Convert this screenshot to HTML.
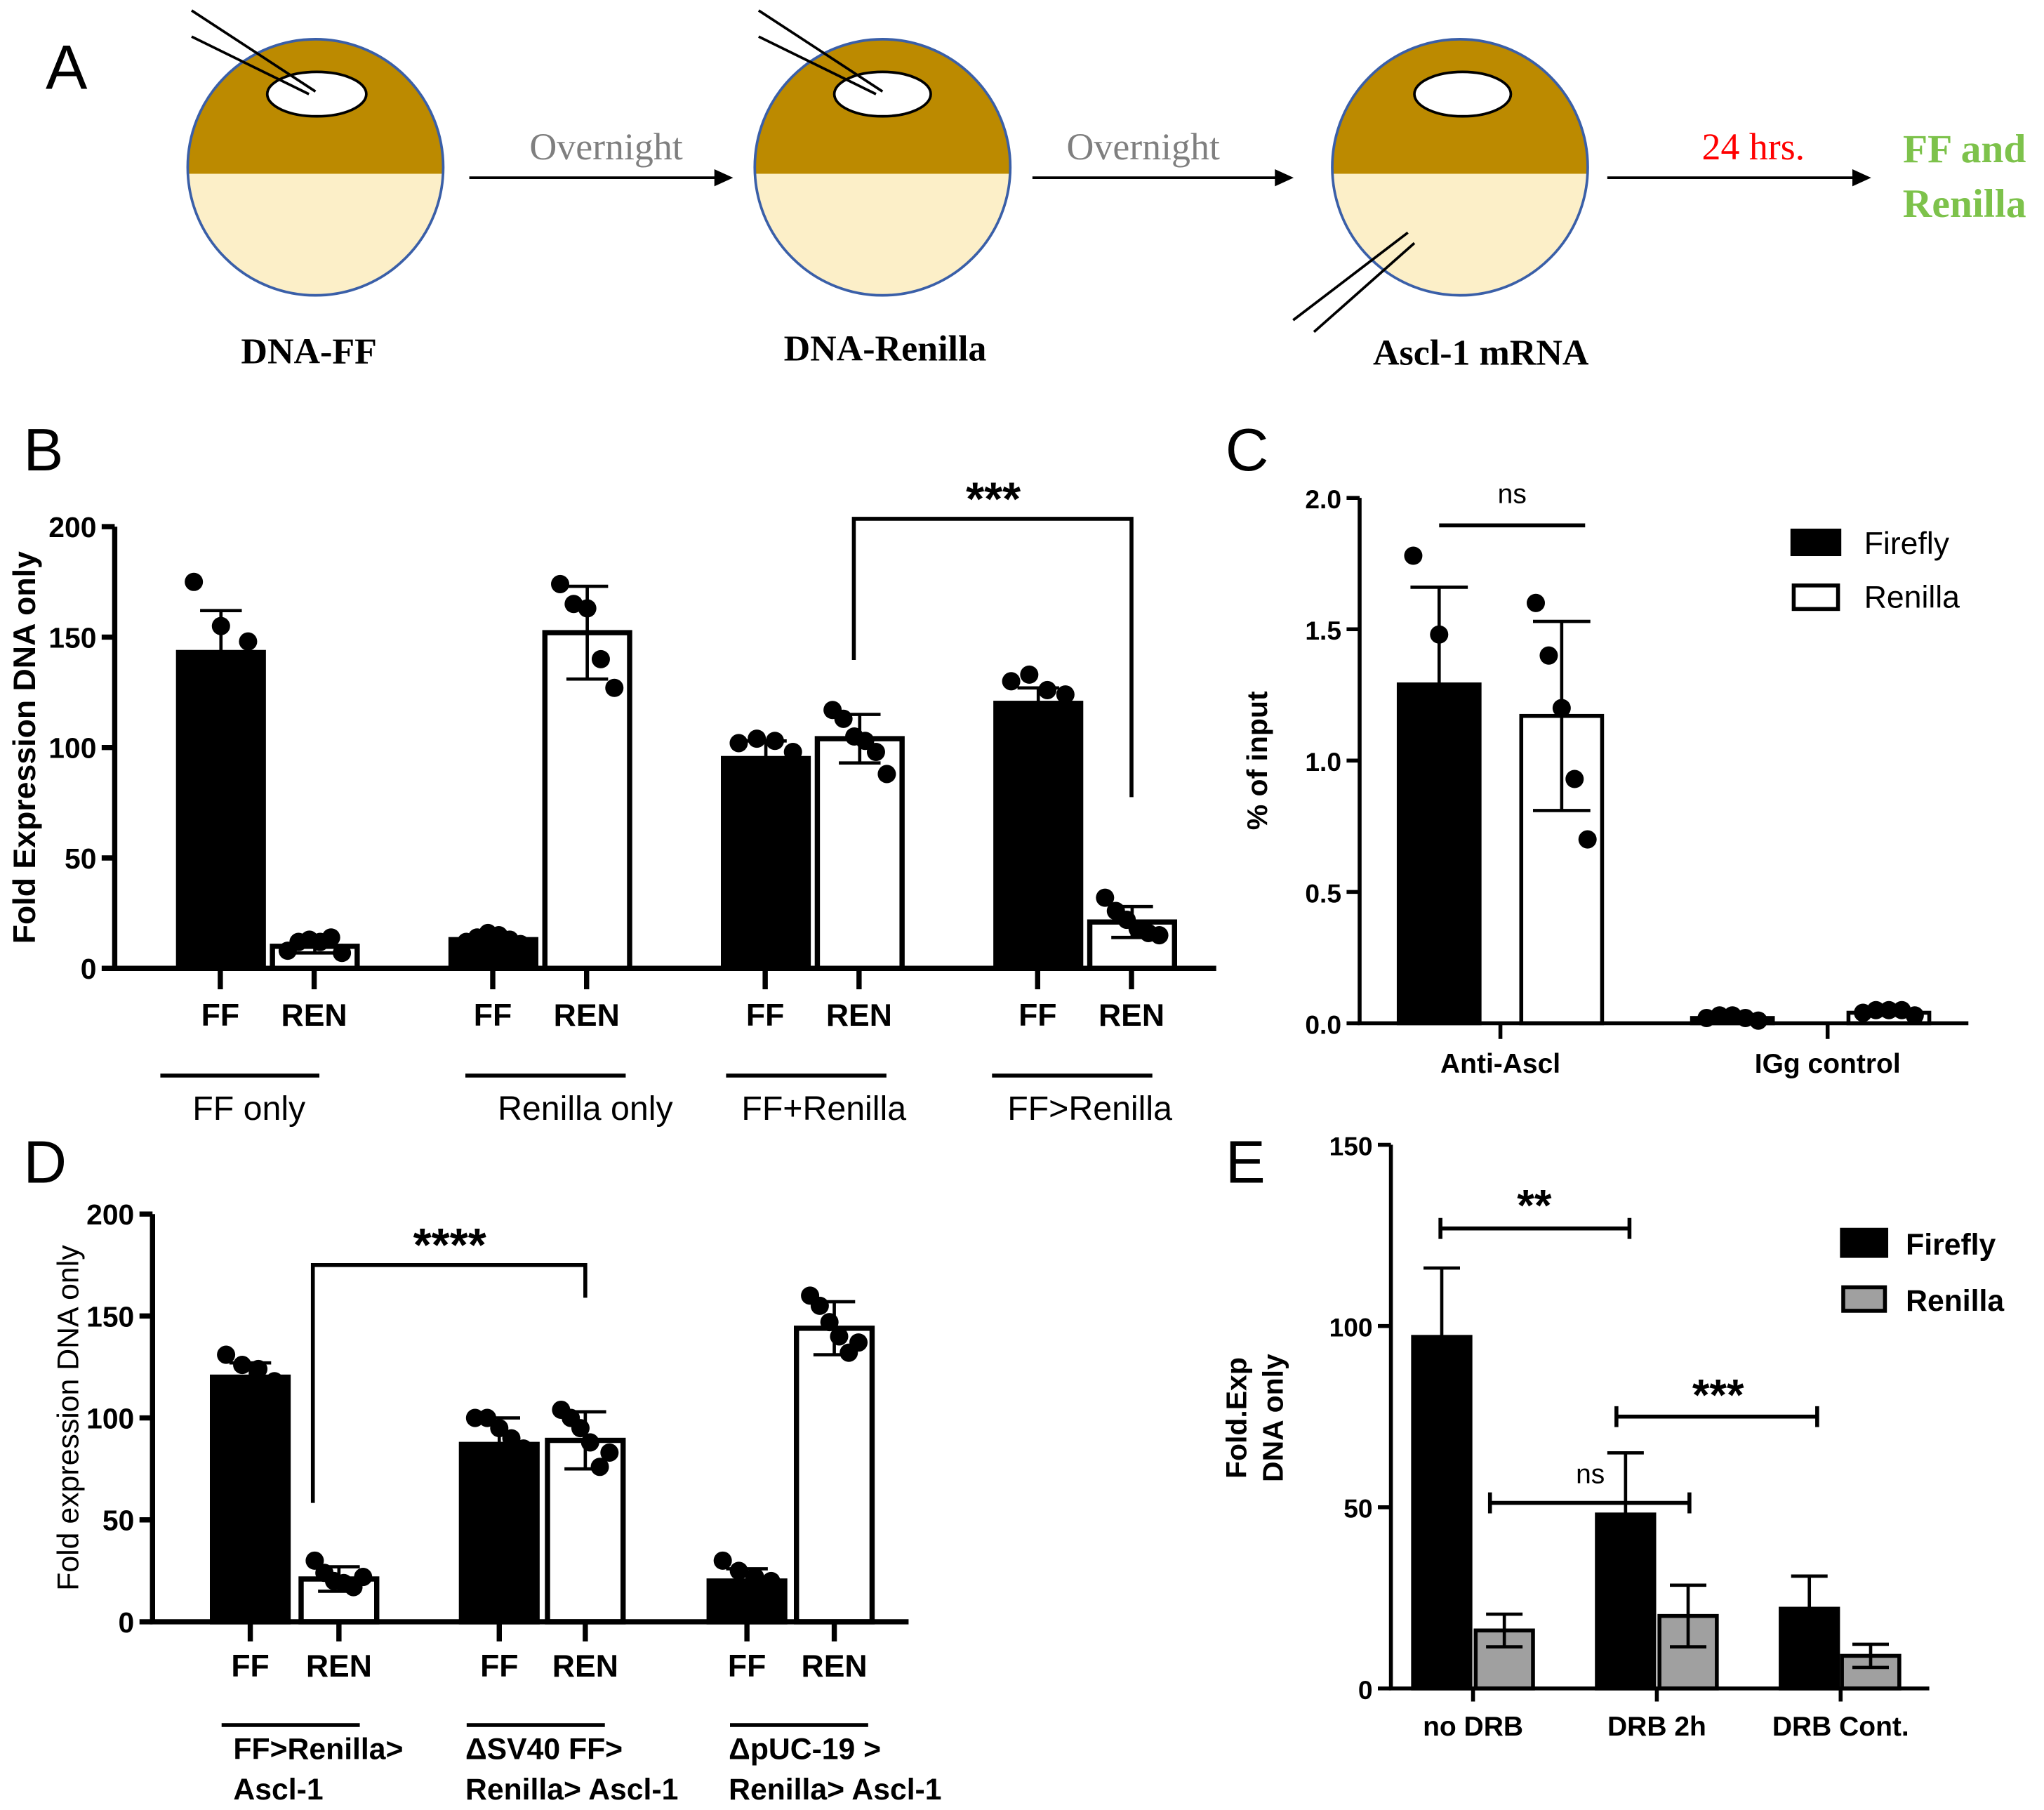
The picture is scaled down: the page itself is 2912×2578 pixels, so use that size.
<!DOCTYPE html>
<html><head><meta charset="utf-8">
<style>
html,body{margin:0;padding:0;background:#fff;}
svg{display:block;}
text{font-family:"Liberation Sans",sans-serif;}
.serif{font-family:"Liberation Serif",serif;}
</style></head>
<body>
<svg id="fig" width="2912" height="2578" viewBox="0 0 1568 1385" preserveAspectRatio="none" xmlns="http://www.w3.org/2000/svg">
<!-- Panel A -->
<g>
<text x="35" y="68" font-size="48">A</text>
<defs>
<clipPath id="c1"><circle cx="242" cy="128" r="98"/></clipPath>
<clipPath id="c2"><circle cx="677" cy="128" r="98"/></clipPath>
<clipPath id="c3"><circle cx="1120" cy="128" r="98"/></clipPath>
</defs>
<g>
<g clip-path="url(#c1)"><rect x="140" y="25" width="210" height="108" fill="#BC8A00"/><rect x="140" y="133" width="210" height="100" fill="#FCEFC8"/></g>
<circle cx="242" cy="128" r="98" fill="none" stroke="#3A5FA8" stroke-width="2"/>
<ellipse cx="243" cy="72" rx="38" ry="17" fill="#fff" stroke="#000" stroke-width="2"/>
<line x1="147" y1="8" x2="242" y2="70" stroke="#000" stroke-width="2"/><line x1="147" y1="28" x2="237" y2="72" stroke="#000" stroke-width="2"/>
</g>
<g>
<g clip-path="url(#c2)"><rect x="575" y="25" width="210" height="108" fill="#BC8A00"/><rect x="575" y="133" width="210" height="100" fill="#FCEFC8"/></g>
<circle cx="677" cy="128" r="98" fill="none" stroke="#3A5FA8" stroke-width="2"/>
<ellipse cx="677" cy="72" rx="37" ry="17" fill="#fff" stroke="#000" stroke-width="2"/>
<line x1="582" y1="8" x2="677" y2="70" stroke="#000" stroke-width="2"/><line x1="582" y1="28" x2="672" y2="72" stroke="#000" stroke-width="2"/>
</g>
<g>
<g clip-path="url(#c3)"><rect x="1018" y="25" width="210" height="108" fill="#BC8A00"/><rect x="1018" y="133" width="210" height="100" fill="#FCEFC8"/></g>
<circle cx="1120" cy="128" r="98" fill="none" stroke="#3A5FA8" stroke-width="2"/>
<ellipse cx="1122" cy="72" rx="37" ry="17" fill="#fff" stroke="#000" stroke-width="2"/>
<line x1="992" y1="245" x2="1080" y2="178" stroke="#000" stroke-width="2"/><line x1="1008" y1="254" x2="1085" y2="186" stroke="#000" stroke-width="2"/>
</g>
<g stroke="#000" stroke-width="2" fill="#000">
<line x1="360" y1="136" x2="552" y2="136"/><polygon points="560,136 549,131 549,141"/>
<line x1="792" y1="136" x2="982" y2="136"/><polygon points="990,136 979,131 979,141"/>
<line x1="1233" y1="136" x2="1425" y2="136"/><polygon points="1433,136 1422,131 1422,141"/>
</g>
<text class="serif" x="465" y="122" font-size="29" fill="#7f7f7f" text-anchor="middle">Overnight</text>
<text class="serif" x="877" y="122" font-size="29" fill="#7f7f7f" text-anchor="middle">Overnight</text>
<text class="serif" x="1345" y="122" font-size="29" fill="#ff0000" text-anchor="middle">24 hrs.</text>
<text class="serif" x="1507" y="124" font-size="31" font-weight="bold" fill="#7DC24B" text-anchor="middle">FF and</text>
<text class="serif" x="1507" y="166" font-size="31" font-weight="bold" fill="#7DC24B" text-anchor="middle">Renilla</text>
<text class="serif" x="237" y="278" font-size="28" font-weight="bold" text-anchor="middle">DNA-FF</text>
<text class="serif" x="679" y="276" font-size="28" font-weight="bold" text-anchor="middle">DNA-Renilla</text>
<text class="serif" x="1136" y="279" font-size="28" font-weight="bold" text-anchor="middle">Ascl-1 mRNA</text>
</g>
<text x="18" y="360" font-size="46">B</text>
<text x="940" y="360" font-size="46">C</text>
<text x="18" y="905" font-size="46">D</text>
<text x="940" y="905" font-size="46">E</text>
</svg>
<script>
// ---- Panel B data ----
const bCategories = ['FF','REN','FF','REN','FF','REN','FF','REN'];
const bValues = [143,10,13,152,95,104,120,21];
const bErrors = [19,3,3,21,8,11,7,7];
const bDots = [[175,155,148],[8,12,13,12,14,7],[12,14,16,15,13,11],[174,165,163,140,127],[102,104,103,98],[117,113,105,103,98,88],[130,133,126,124],[32,26,22,18,16,15]];
const bTicks = [0,50,100,150,200];
const bGroups = ['FF only','Renilla only','FF+Renilla','FF>Renilla'];
// ---- Panel C data ----
const cGroups = ['Anti-Ascl','IGg control'];
const cValues = [1.29,1.17,0.02,0.04];
const cErrors = [0.37,0.36,0.01,0.01];
const cDots = [[1.78,1.48,1.2],[1.6,1.4,1.2,0.93,0.7],[0.02,0.03,0.03,0.02,0.01],[0.04,0.05,0.05,0.05,0.03]];
const cTicks = [0,0.5,1.0,1.5,2.0];
// ---- Panel D data ----
const dCategories = ['FF','REN','FF','REN','FF','REN'];
const dValues = [120,21,87,89,20,144];
const dErrors = [7,6,13,14,6,13];
const dDots = [[131,126,124,118],[30,24,20,19,17,22],[100,100,95,90,85],[104,100,95,88,76,83],[30,25,22,20],[160,155,147,140,132,137]];
const dTicks = [0,50,100,150,200];
// ---- Panel E data ----
const eGroups = ['no DRB','DRB 2h','DRB Cont.'];
const eFirefly = [97,48,22];
const eRenilla = [16,20,9];
const eFireflyErr = [19,17,9];
const eRenillaErr = [4.5,8.5,3.2];
const eTicks = [0,50,100,150];

const NS='http://www.w3.org/2000/svg';
const svg=document.getElementById('fig');
function mk(tag,attrs,parent,txt){const e=document.createElementNS(NS,tag);for(const k in attrs)e.setAttribute(k,attrs[k]);if(txt!==undefined)e.textContent=txt;(parent||svg).appendChild(e);return e;}
function grp(name){const g=mk('g',{});


return g;}

function barChart(o){
  const g=grp(o.name);
  const y=v=>o.y0-(v/o.max)*(o.y0-o.yTop);
  // bars
  o.values.forEach((v,i)=>{
    const x=o.barX[i], w=o.barW, fill=o.fills[i];
    const r=mk('rect',{x:x,y:y(v),width:w,height:o.y0-y(v),fill:fill,stroke:'#000','stroke-width':o.sw},g);
    
    
    if(o.errors){const cx=x+w/2,e=o.errors[i];
      const ln=mk('path',{d:`M${cx},${y(v-e)}V${y(v+e)}M${cx-o.cap},${y(v+e)}H${cx+o.cap}M${cx-o.cap},${y(v-e)}H${cx+o.cap}`,stroke:fill==='#000'?'#000':'#000','stroke-width':2.5,fill:'none'},g);
      
      }
    if(o.dots){const d=o.dots[i],n=d.length;d.forEach((dv,j)=>{
      const cx=x+w*(0.18+0.64*(n>1?j/(n-1):0.5));
      const c=mk('circle',{cx:cx,cy:y(dv),r:o.dotR,fill:'#000'},g);
      
      });}
  });
  // axes
  const ax=mk('path',{d:`M${o.x0},${o.yTop}V${o.y0}H${o.xEnd}`,stroke:'#000','stroke-width':o.aw,fill:'none'},g);
  
  
  o.ticks.forEach(t=>{
    mk('line',{x1:o.x0-10,x2:o.x0,y1:y(t),y2:y(t),stroke:'#000','stroke-width':o.aw},g);
    const tx=mk('text',{x:o.x0-14,y:y(t)+8,'font-size':o.tickFs,'font-weight':'bold','text-anchor':'end'},g,o.fmt?o.fmt(t):t);
    
    
  });
  return {g,y};
}

// Panel B
(function(){
  const barX=[137,209,346,418,555,627,764,836];
  const fills=bValues.map((v,i)=>i%2===0?'#000':'#fff');
  fills[3]='#fff';
  const {g,y}=barChart({name:'panel-b-chart',values:bValues,errors:bErrors,dots:bDots,barX,barW:65,fills,x0:88,xEnd:933,y0:741,yTop:403,max:200,ticks:bTicks,tickFs:22,sw:4,aw:4,cap:16,dotR:7});
  bCategories.forEach((c,i)=>{const cx=barX[i]+32;
    mk('line',{x1:cx,x2:cx,y1:741,y2:757,stroke:'#000','stroke-width':4},g);
    const t=mk('text',{x:cx,y:785,'font-size':24,'font-weight':'bold','text-anchor':'middle'},g,c);
    
    });
  const gl=[[123,245,185],[357,480,449],[557,680,632],[761,884,836]];
  bGroups.forEach((s,i)=>{mk('line',{x1:gl[i][0],x2:gl[i][1],y1:823,y2:823,stroke:'#000','stroke-width':3},g);
    const t=mk('text',{x:gl[i][2]+(i===0?6:0),y:857,'font-size':26,'text-anchor':'middle'},g,s);
    
    });
  mk('path',{d:'M655,505V397H868V610',stroke:'#000','stroke-width':3,fill:'none'},g);
  const st=mk('text',{x:762,y:394,'font-size':36,'font-weight':'bold','text-anchor':'middle'},g,'***');
  
  
  const yl=mk('text',{transform:'translate(27,572) rotate(-90)','font-size':24,'font-weight':'bold','text-anchor':'middle'},g,'Fold Expression DNA only');
  
  
})();

// Panel C
(function(){
  const barX=[1073,1167,1298,1418];
  const fills=['#000','#fff','#000','#fff'];
  const {g,y}=barChart({name:'panel-c-chart',values:cValues,errors:cErrors,dots:cDots,barX,barW:62,fills,x0:1043,xEnd:1510,y0:783,yTop:381,max:2,ticks:cTicks,tickFs:20,sw:3,aw:3,cap:22,dotR:7,fmt:t=>t.toFixed(1)});
  [[1151,'Anti-Ascl'],[1402,'IGg control']].forEach((p,i)=>{
    mk('line',{x1:p[0],x2:p[0],y1:783,y2:795,stroke:'#000','stroke-width':3},g);
    const t=mk('text',{x:p[0],y:821,'font-size':21,'font-weight':'bold','text-anchor':'middle'},g,cGroups[i]);
    
    });
  mk('line',{x1:1104,x2:1216,y1:402,y2:402,stroke:'#000','stroke-width':3},g);
  const ns=mk('text',{x:1160,y:385,'font-size':21,'text-anchor':'middle'},g,'ns');
  
  
  const yl=mk('text',{transform:'translate(972,582) rotate(-90)','font-size':22,'font-weight':'bold','text-anchor':'middle'},g,'% of input');
  
  
  mk('rect',{x:1375,y:406,width:36,height:18,fill:'#000',stroke:'#000','stroke-width':3},g);
  mk('rect',{x:1376,y:448,width:34,height:18,fill:'#fff',stroke:'#000','stroke-width':3},g);
  const l1=mk('text',{x:1430,y:424,'font-size':24},g,'Firefly');
  
  
  const l2=mk('text',{x:1430,y:465,'font-size':24},g,'Renilla');
  
  
})();

// Panel D
(function(){
  const barX=[163,231,354,420,544,611];
  const fills=['#000','#fff','#000','#fff','#000','#fff'];
  const {g,y}=barChart({name:'panel-d-chart',values:dValues,errors:dErrors,dots:dDots,barX,barW:58,fills,x0:117,xEnd:697,y0:1241,yTop:929,max:200,ticks:dTicks,tickFs:22,sw:4,aw:4,cap:16,dotR:7});
  dCategories.forEach((c,i)=>{const cx=barX[i]+29;
    mk('line',{x1:cx,x2:cx,y1:1241,y2:1256,stroke:'#000','stroke-width':4},g);
    const t=mk('text',{x:cx,y:1283,'font-size':24,'font-weight':'bold','text-anchor':'middle'},g,c);
    
    });
  const gl=[[170,276,179,'FF>Renilla>','Ascl-1'],[358,464,357,'ΔSV40 FF>','Renilla> Ascl-1'],[560,666,559,'ΔpUC-19 >','Renilla> Ascl-1']];
  gl.forEach(p=>{mk('line',{x1:p[0],x2:p[1],y1:1320,y2:1320,stroke:'#000','stroke-width':3},g);
    const t1=mk('text',{x:p[2],y:1346,'font-size':23,'font-weight':'bold'},g,p[3]);
    
    
    const t2=mk('text',{x:p[2],y:1377,'font-size':23,'font-weight':'bold'},g,p[4]);
    
    });
  mk('path',{d:'M240,1150V968H449V993',stroke:'#000','stroke-width':3,fill:'none'},g);
  const st=mk('text',{x:345,y:965,'font-size':36,'font-weight':'bold','text-anchor':'middle'},g,'****');
  
  
  const yl=mk('text',{transform:'translate(60,1085) rotate(-90)','font-size':23,'text-anchor':'middle'},g,'Fold expression DNA only');
  
  
})();

// Panel E
(function(){
  const vals=[],errs=[],barX=[],fills=[];
  const fx=[1084,1225,1366],rx=[1132,1273,1413];
  eGroups.forEach((gname,i)=>{vals.push(eFirefly[i],eRenilla[i]);errs.push(eFireflyErr[i],eRenillaErr[i]);barX.push(fx[i],rx[i]);fills.push('#000','#A0A0A0');});
  const {g,y}=barChart({name:'panel-e-chart',values:vals,errors:errs,barX,barW:44,fills,x0:1067,xEnd:1480,y0:1292,yTop:876,max:150,ticks:eTicks,tickFs:20,sw:3,aw:3,cap:14,dotR:0});
  eGroups.forEach((s,i)=>{const cx=fx[i]+46;
    mk('line',{x1:cx,x2:cx,y1:1292,y2:1302,stroke:'#000','stroke-width':3},g);
    const t=mk('text',{x:cx,y:1328,'font-size':21,'font-weight':'bold','text-anchor':'middle'},g,s);
    
    });
  [[1105,1250,940,'**',1177,930,34],[1143,1296,1150,'ns',1220,1135,21],[1240,1394,1084,'***',1318,1075,34]].forEach(b=>{
    mk('path',{d:`M${b[0]},${b[2]-8}V${b[2]+8}M${b[0]},${b[2]}H${b[1]}M${b[1]},${b[2]-8}V${b[2]+8}`,stroke:'#000','stroke-width':3,fill:'none'},g);
    const t=mk('text',{x:b[4],y:b[5]+(b[3]==='ns'?0:4),'font-size':b[6],'font-weight':b[3]==='ns'?'normal':'bold','text-anchor':'middle'},g,b[3]);
    
    });
  const y1=mk('text',{transform:'translate(956,1085) rotate(-90)','font-size':22,'font-weight':'bold','text-anchor':'middle'},g,'Fold.Exp');
  
  
  const y2=mk('text',{transform:'translate(984,1085) rotate(-90)','font-size':22,'font-weight':'bold','text-anchor':'middle'},g,'DNA only');
  
  
  mk('rect',{x:1413,y:941,width:34,height:20,fill:'#000',stroke:'#000','stroke-width':3},g);
  mk('rect',{x:1414,y:985,width:32,height:18,fill:'#A0A0A0',stroke:'#000','stroke-width':3},g);
  const l1=mk('text',{x:1462,y:960,'font-size':23,'font-weight':'bold'},g,'Firefly');
  
  
  const l2=mk('text',{x:1462,y:1003,'font-size':23,'font-weight':'bold'},g,'Renilla');
  
  
})();
</script>
</body></html>
